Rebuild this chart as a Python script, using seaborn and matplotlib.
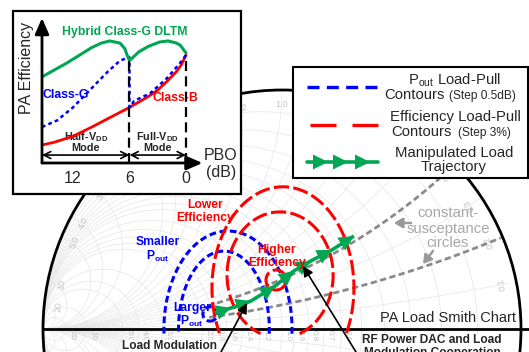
import numpy as np
import pandas as pd
import matplotlib.pyplot as plt
from matplotlib.patches import Rectangle, Circle
import seaborn as sns

sns.set_style("white")
plt.rcParams["font.family"] = ["Liberation Sans", "DejaVu Sans"]
plt.rcParams["mathtext.fontset"] = "custom"
plt.rcParams["mathtext.rm"] = "Liberation Sans"
plt.rcParams["mathtext.bf"] = "Liberation Sans:bold"

W, H = 529, 352

# ---- inset: PA efficiency vs. power back-off (efficiency normalised to class-B peak)
pbo_b = [15.3, 14, 12, 10, 8, 6, 4, 3, 2, 1, 0.5, 0]
eff_b = [0.165, 0.19, 0.245, 0.33, 0.42, 0.51, 0.61, 0.67, 0.75, 0.84, 0.9, 0.99]

pbo_g = [15.3, 13.7, 12, 10.2, 8.4, 7.0, 6.0, 6.0, 5.5, 3.8, 2.0, 0.6, 0]
eff_g = [0.33, 0.39, 0.51, 0.67, 0.83, 0.94, 0.97, 0.51, 0.57, 0.64, 0.78, 0.92, 0.99]

pbo_h = [15.3, 12.6, 10.0, 9.0, 8.1, 7.0, 6.5, 6.25, 6.0, 5.0, 4.0, 2.8, 1.9, 1.0, 0.6, 0.0]
eff_h = [0.79, 0.92, 1.06, 1.10, 1.12, 1.10, 1.05, 0.99, 0.94, 1.02, 1.07, 1.11, 1.12, 1.10, 1.08, 1.01]

pbo_ticks = [12, 6, 0]
mode_edges = [6, 0]

# ---- smith chart, u = -Re(gamma), v = Im(gamma)
r_ticks = [0.1, 0.2, 0.3, 0.4, 0.5, 0.6, 0.7, 0.8, 0.9, 1.0,
           1.2, 1.4, 1.6, 1.8, 2.0, 3.0, 4.0, 5.0, 10, 20]
x_ticks = r_ticks
r_labels = [0.6, 0.7, 0.8, 0.9, 1.0, 1.2, 1.4, 1.6, 1.8, 2.0, 3.0, 4.0, 5.0, 10, 20]
susc_vals = [0.4, 0.2]
susc_start = -0.314

# P_out contours (ellipses: centre u, v and half axes)
pout_u = [-0.226, -0.243, -0.301]
pout_v = [0.0, 0.0, 0.063]
pout_ru = [0.268, 0.19, 0.03]
pout_rv = [0.41, 0.326, 0.03]

# efficiency contours
eff_u = [0.004, -0.008, -0.025]
eff_v = [0.172, 0.226, 0.205]
eff_ru = [0.297, 0.222, 0.042]
eff_rv = [0.423, 0.264, 0.042]

# manipulated load trajectory
traj_u = [-0.280, -0.213, -0.130, -0.029, 0.050, 0.121, 0.209, 0.301]
traj_v = [0.067, 0.088, 0.117, 0.180, 0.243, 0.285, 0.331, 0.389]

BLUE, RED, GREEN = "#0000ff", "#ff0000", "#00a651"
GREY, GRID, LBL = "#8a8a8a", "#e6e6e6", "#c4c4c4"

fig = plt.figure(figsize=(W / 100, H / 100), dpi=100)

# main chart, one unit = chart radius
CX, CY, RAD = 282, 329, 239
ax = fig.add_axes([0, 0, 1, 1])
ax.set_xlim(-CX / RAD, (W - CX) / RAD)
ax.set_ylim(-(H - CY) / RAD, CY / RAD)
ax.axis("off")

th = np.linspace(0, 2 * np.pi, 1441)
for r in r_ticks:
    ax.add_patch(Circle((-r / (r + 1), 0), 1 / (r + 1), fill=False,
                        ec=GRID, lw=0.5, zorder=1))
for x in x_ticks:
    for s in (1, -1):
        u = -1 + np.cos(th) / x
        v = s / x + np.sin(th) / x
        v = np.where(u ** 2 + v ** 2 <= 1.0001, v, np.nan)
        ax.plot(u, v, color=GRID, lw=0.5, zorder=1)

for r in r_labels:
    lab = f"{r:g}" if r >= 10 else f"{r:.1f}"
    ax.text(-(r - 1) / (r + 1) + 0.025, -0.026, lab, rotation=-90,
            ha="center", va="center", fontsize=5.8, color=LBL, zorder=2)
for x in x_ticks:
    a = 2 * np.arctan(x)
    rot = np.degrees(a) + 90 if a < np.pi / 2 else np.degrees(a) - 90
    ax.text(0.94 * np.cos(a), 0.94 * np.sin(a), f"{x:g}" if x >= 10 else f"{x:.1f}",
            rotation=rot, ha="center", va="center", fontsize=6.5,
            color=LBL, zorder=2)

ax.add_patch(Circle((0, 0), 1, fill=False, ec="black", lw=2, zorder=3))
ax.plot([-1, (W - CX) / RAD], [0, 0], color="black", lw=2, zorder=3)

# constant-susceptance circles
ph = np.linspace(-np.pi / 2, 0, 800)
for b in susc_vals:
    u = -1 + np.cos(ph) / b
    v = 1 / b + np.sin(ph) / b
    keep = (u >= susc_start) & (u ** 2 + v ** 2 <= 1)
    ax.plot(u[keep], v[keep], color=GREY, lw=2, dashes=(2.2, 1.3), zorder=4)


def ring(u0, v0, ru, rv):
    t = np.linspace(-np.pi / 2, 1.5 * np.pi, 500)
    u = u0 + ru * np.cos(t)
    v = v0 + rv * np.sin(t)
    return u, np.where(v < -0.02, np.nan, v)


for i in range(len(pout_u)):
    u, v = ring(pout_u[i], pout_v[i], pout_ru[i], pout_rv[i])
    ax.plot(u, v, color=BLUE, lw=2.2, dashes=(2.2, 1.2), zorder=5)
for i in range(len(eff_u)):
    u, v = ring(eff_u[i], eff_v[i], eff_ru[i], eff_rv[i])
    ax.plot(u, v, color=RED, lw=2.2, dashes=(5, 1.4), zorder=5)

ax.plot(traj_u, traj_v, color=GREEN, lw=2.6, zorder=6, solid_capstyle="butt")
for i in range(1, len(traj_u)):
    ax.annotate("", xy=(traj_u[i], traj_v[i]), xytext=(traj_u[i - 1], traj_v[i - 1]),
                arrowprops=dict(arrowstyle="-|>,head_length=0.9,head_width=0.45",
                                color=GREEN, lw=0, mutation_scale=12,
                                shrinkA=0, shrinkB=0), zorder=6)

# overlay in pixel units: texts, legend, inset frame
ov = fig.add_axes([0, 0, 1, 1], zorder=2)
ov.set_xlim(0, W)
ov.set_ylim(H, 0)
ov.axis("off")
ov.patch.set_alpha(0)

bold = dict(fontweight="bold", ha="center", va="center", fontsize=8.7)
ov.text(205, 205, "Lower", color=RED, **bold)
ov.text(205, 218, "Efficiency", color=RED, **bold)
ov.text(277, 250, "Higher", color=RED, **bold)
ov.text(277, 263, "Efficiency", color=RED, **bold)
ov.text(158, 242, "Smaller", color=BLUE, **bold)
ov.text(158, 256, r"P$_{\mathbf{out}}$", color=BLUE, **bold)
ov.text(192, 308, "Larger", color=BLUE, **bold)
ov.text(192, 321, r"P$_{\mathbf{out}}$", color=BLUE, **bold)

ov.text(448, 318, "PA Load Smith Chart", fontsize=10.5, ha="center", va="center")
for y, s in zip([213, 229, 243], ["constant-", "susceptance", "circles"]):
    ov.text(448, y, s, fontsize=10.7, color="#a8a8a8", ha="center", va="center")
gar = dict(arrowstyle="-|>,head_length=0.5,head_width=0.3", color="#999999",
           lw=1.8, mutation_scale=10, shrinkA=0, shrinkB=0)
ov.annotate("", xy=(394, 223), xytext=(411, 223), arrowprops=gar)
ov.annotate("", xy=(423, 264), xytext=(433, 251), arrowprops=gar)

bt = dict(fontweight="bold", fontsize=8.6, ha="center", va="center",
          bbox=dict(fc="white", ec="none", pad=0.3))
ov.text(170, 346, "Load Modulation", **bt)
ov.plot([122, 218], [351.5, 351.5], color="black", lw=1)
ov.text(432, 340, "RF Power DAC and Load", **bt)
ov.text(432, 353, "Modulation Cooperation", **bt)
bar = dict(arrowstyle="-|>,head_length=0.6,head_width=0.3", color="black",
           lw=1.2, mutation_scale=10, shrinkA=0, shrinkB=0)
ov.annotate("", xy=(247, 303), xytext=(221, 352), arrowprops=bar)
ov.annotate("", xy=(303, 266), xytext=(356, 352), arrowprops=bar)

# legend
ov.add_patch(Rectangle((293, 67), 235, 111, fc="white", ec="black", lw=1.5, zorder=3))
ov.plot([307, 378], [87, 87], color=BLUE, lw=2.4, dashes=(3.6, 2.2), zorder=4)
ov.plot([310, 378], [125, 125], color=RED, lw=2.4, dashes=(7.8, 4.8), zorder=4)
ov.plot([307, 378], [162, 162], color=GREEN, lw=2.6, zorder=4)
for xt in [328, 348, 370]:
    ov.annotate("", xy=(xt, 162), xytext=(xt - 12, 162),
                arrowprops=dict(arrowstyle="-|>,head_length=0.9,head_width=0.45",
                                color=GREEN, lw=0, mutation_scale=12,
                                shrinkA=0, shrinkB=0), zorder=5)
lt = dict(fontsize=10.7, va="center", zorder=5)
ov.text(455, 80, r"P$_{\mathrm{out}}$ Load-Pull", ha="center", **lt)
ov.text(445, 95, "Contours", ha="right", **lt)
ov.text(449, 96, "(Step 0.5dB)", ha="left", fontsize=8.6, va="center", zorder=5)
ov.text(455, 117, "Efficiency Load-Pull", ha="center", **lt)
ov.text(452, 132, "Contours", ha="right", **lt)
ov.text(458, 133, "(Step 3%)", ha="left", fontsize=8.6, va="center", zorder=5)
ov.text(454, 153, "Manipulated Load", ha="center", **lt)
ov.text(454, 167, "Trajectory", ha="center", **lt)

# inset frame and its texts
ov.add_patch(Rectangle((13, 11), 228, 183, fc="white", ec="black", lw=1.6, zorder=3))
it = dict(ha="center", va="center", zorder=5)
ov.text(27, 68, "PA Efficiency", rotation=90, fontsize=11.5, **it)
ov.text(221, 155, "PBO", fontsize=11.5, **it)
ov.text(221, 173, "(dB)", fontsize=11.5, **it)
ov.text(125, 32, "Hybrid Class-G DLTM", color=GREEN, fontweight="bold", fontsize=8.8, **it)
ov.text(66, 95, "Class-G", color=BLUE, fontweight="bold", fontsize=8.8, **it)
ov.text(175, 98, "Class-B", color=RED, fontweight="bold", fontsize=8.8, **it)
ov.text(86, 137, r"Half-V$_{\mathbf{DD}}$", fontweight="bold", fontsize=7.8, **it)
ov.text(86, 148, "Mode", fontweight="bold", fontsize=7.8, **it)
ov.text(157, 137, r"Full-V$_{\mathbf{DD}}$", fontweight="bold", fontsize=7.8, **it)
ov.text(157, 148, "Mode", fontweight="bold", fontsize=7.8, **it)

# inset plot
X0, X1 = 15.29, -2.02
ins = fig.add_axes([42 / W, 1 - 163 / H, (205 - 42) / W, (163 - 15) / H], zorder=3)
ins.patch.set_alpha(0)
sns.lineplot(x=pbo_b, y=eff_b, ax=ins, color=RED, lw=2, sort=False, estimator=None)
sns.lineplot(x=pbo_g, y=eff_g, ax=ins, color=BLUE, lw=1.8, sort=False,
             estimator=None, linestyle=(0, (1.5, 1.3)))
sns.lineplot(x=pbo_h, y=eff_h, ax=ins, color=GREEN, lw=2.2, sort=False, estimator=None)
ins.set_xlim(X0, X1)
ins.set_ylim(0, 1.358)
ins.axis("off")

for p, top in zip(mode_edges, [0.97, 0.99]):
    ins.plot([p, p], [0, top], color="black", lw=1.6, dashes=(4.5, 2.4))
axarr = dict(arrowstyle="-|>,head_length=0.8,head_width=0.35", color="black",
             lw=2, mutation_scale=12, shrinkA=0, shrinkB=0)
ins.annotate("", xy=(X0, 1.33), xytext=(X0, 0), arrowprops=axarr, annotation_clip=False)
ins.annotate("", xy=(-1.75, 0), xytext=(X0, 0), arrowprops=axarr, annotation_clip=False)
marr = dict(arrowstyle="<->,head_length=0.5,head_width=0.25", color="black",
            lw=1.2, mutation_scale=10, shrinkA=0, shrinkB=0)
ins.annotate("", xy=(6, 0.073), xytext=(X0, 0.073), arrowprops=marr)
ins.annotate("", xy=(0, 0.073), xytext=(6, 0.073), arrowprops=marr)
for p in pbo_ticks:
    ins.text(p, -0.14, str(p), fontsize=11.5, ha="center", va="center", clip_on=False)

fig.savefig("out.png", dpi=100)
